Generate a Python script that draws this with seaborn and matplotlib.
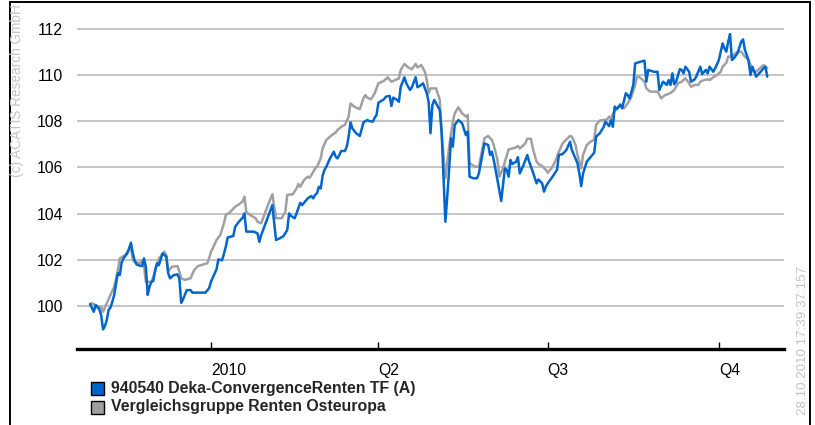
import numpy as np
import pandas as pd
import seaborn as sns
import matplotlib.pyplot as plt
from matplotlib.patches import Rectangle

fund_name = '940540 Deka-ConvergenceRenten TF (A)'
peer_name = 'Vergleichsgruppe Renten Osteuropa'

# Tage ab 01.01.2010 / indexierter Wert (Start = 100)
fund_days = [-65, -63, -62, -60, -59, -58, -57, -56, -55, -54, -53, -52, -51, -50, -49, -48, -47, -45, -44, -43,
             -42, -41, -40, -38, -37, -36, -35, -34, -33, -32, -31, -30, -29, -28, -27, -26, -25, -24, -23, -22,
             -20, -18, -17, -16, -15, -13, -11, -10, -3, -1, 0, 3, 4, 6, 8, 9, 12, 13, 15, 17,
             18, 19, 23, 25, 26, 27, 29, 31, 33, 34, 35, 37, 39, 41, 42, 43, 45, 46, 48, 49,
             51, 52, 54, 55, 56, 57, 58, 59, 60, 61, 62, 64, 66, 67, 68, 69, 70, 72, 73, 74,
             75, 76, 78, 80, 82, 84, 85, 87, 88, 89, 90, 93, 94, 96, 97, 98, 100, 101, 102, 104,
             105, 107, 108, 110, 111, 113, 114, 116, 117, 118, 119, 120, 121, 123, 124, 125, 126, 127, 128, 129,
             130, 131, 133, 135, 137, 138, 139, 141, 143, 144, 147, 149, 150, 151, 152, 154, 156, 158, 159, 160,
             161, 162, 164, 165, 166, 168, 170, 171, 173, 175, 176, 178, 179, 180, 181, 183, 185, 186, 187, 189,
             191, 193, 194, 197, 198, 199, 200, 202, 204, 206, 207, 209, 211, 212, 214, 215, 216, 217, 218, 220,
             221, 223, 224, 225, 227, 228, 231, 233, 234, 235, 238, 240, 241, 243, 245, 246, 247, 248, 249, 250,
             252, 253, 254, 255, 257, 258, 260, 261, 263, 264, 266, 267, 268, 270, 271, 273, 275, 276, 277, 278,
             279, 280, 281, 283, 285, 286, 287, 288, 289, 290, 291, 292, 293, 295, 297, 298, 299]
fund_vals = [100.09, 99.75, 100.04, 99.86, 99.60, 98.99, 99.13, 99.39, 99.83, 99.94, 100.19, 100.48, 100.98, 101.42, 101.34, 101.89, 102.06, 102.28, 102.50, 102.74,
             102.28, 101.96, 101.80, 101.74, 101.73, 102.06, 101.70, 100.48, 100.84, 101.05, 101.08, 101.56, 101.85, 101.77, 102.02, 102.28, 102.21, 102.13, 101.42, 101.20,
             101.34, 101.37, 101.20, 100.14, 100.29, 100.69, 100.69, 100.58, 100.58, 100.77, 101.05, 101.59, 102.02, 101.98, 102.57, 102.97, 103.03, 103.43, 103.65, 103.82,
             104.01, 103.22, 103.22, 103.15, 102.78, 103.07, 103.51, 103.94, 104.37, 103.58, 102.86, 102.93, 103.03, 103.29, 104.01, 103.90, 103.80, 104.01, 104.47, 104.37,
             104.56, 104.66, 104.76, 104.66, 104.81, 104.88, 105.16, 105.09, 105.63, 105.89, 106.03, 106.39, 106.68, 106.47, 106.39, 106.54, 106.71, 106.71, 106.90, 107.33,
             107.95, 107.69, 107.48, 107.36, 107.95, 108.05, 108.01, 107.98, 108.15, 108.27, 108.80, 108.95, 109.06, 109.10, 108.66, 109.02, 108.92, 108.84, 109.49, 109.90,
             109.64, 109.35, 109.47, 109.90, 109.47, 109.57, 109.64, 109.21, 108.84, 107.48, 108.70, 108.92, 108.77, 108.48, 107.48, 105.60, 103.65, 104.73, 105.89, 107.26,
             106.90, 107.84, 108.05, 107.91, 107.40, 107.55, 105.60, 105.53, 105.53, 105.74, 107.04, 106.97, 106.54, 106.68, 106.32, 105.45, 104.55, 105.96, 105.89, 105.60,
             106.32, 106.15, 106.25, 106.44, 105.74, 106.10, 106.54, 106.25, 105.81, 105.31, 105.48, 105.31, 104.95, 105.17, 105.31, 105.53, 105.77, 105.89, 106.54, 106.58,
             106.75, 107.11, 106.75, 106.18, 105.74, 105.19, 105.74, 106.25, 106.44, 106.64, 107.33, 107.48, 107.74, 107.98, 107.79, 108.05, 107.76, 108.63, 108.52, 108.70,
             108.56, 109.21, 109.13, 108.99, 109.57, 110.50, 110.58, 110.62, 109.71, 110.22, 110.14, 110.14, 109.35, 109.71, 109.57, 109.78, 109.57, 110.07, 109.60, 109.71,
             110.25, 110.22, 110.07, 110.36, 110.14, 109.71, 109.81, 109.96, 110.36, 110.04, 110.22, 110.07, 110.36, 110.14, 110.29, 110.65, 111.37, 111.15, 111.01, 111.44,
             111.77, 110.65, 110.72, 110.94, 111.44, 111.54, 111.08, 110.87, 110.58, 110.00, 110.36, 110.14, 109.93, 110.10, 110.29, 110.36, 109.93]

peer_days = [-65, -64, -61, -59, -58, -56, -52, -50, -49, -46, -44, -43, -42, -41, -38, -37, -36, -35, -32, -30,
             -28, -25, -24, -23, -21, -18, -17, -16, -14, -11, -9, -7, -2, -1, 0, 1, 3, 5, 7, 8,
             10, 13, 15, 17, 18, 19, 21, 24, 25, 27, 28, 31, 33, 34, 35, 38, 40, 41, 44, 46,
             47, 48, 50, 52, 53, 54, 56, 57, 59, 60, 62, 65, 67, 68, 70, 72, 74, 75, 77, 80,
             82, 83, 84, 86, 88, 90, 93, 95, 97, 99, 101, 102, 104, 106, 108, 110, 111, 113, 115, 116,
             117, 118, 121, 123, 124, 126, 128, 130, 131, 133, 135, 137, 138, 139, 142, 144, 147, 149, 151, 152,
             154, 155, 157, 158, 160, 162, 164, 165, 166, 169, 170, 172, 173, 175, 176, 178, 180, 181, 183, 185,
             187, 189, 191, 193, 194, 196, 197, 199, 200, 202, 204, 206, 207, 209, 211, 213, 214, 215, 217, 219,
             220, 221, 222, 224, 226, 228, 229, 230, 233, 234, 236, 240, 242, 244, 246, 248, 249, 251, 253, 255,
             257, 258, 260, 262, 263, 265, 267, 268, 270, 272, 274, 275, 277, 278, 280, 282, 283, 285, 287, 289,
             291, 293, 295, 297, 299]
peer_vals = [100.05, 100.12, 100.00, 99.95, 99.75, 100.12, 100.84, 101.56, 102.06, 102.21, 102.42, 102.55, 101.99, 101.92, 101.85, 101.99, 101.77, 101.05, 101.05, 101.49,
             102.06, 102.35, 102.21, 101.49, 101.70, 101.73, 101.49, 101.20, 101.13, 101.20, 101.56, 101.73, 101.85, 102.06, 102.35, 102.50, 102.86, 103.07, 103.58, 103.94,
             104.04, 104.30, 104.40, 104.52, 104.73, 104.08, 103.94, 103.80, 103.65, 103.58, 103.80, 104.45, 104.84, 104.30, 103.80, 103.80, 104.08, 104.81, 104.84, 105.09,
             105.28, 105.16, 105.45, 105.60, 105.55, 105.67, 105.96, 106.03, 106.39, 106.82, 107.19, 107.40, 107.50, 107.62, 107.76, 107.84, 108.20, 108.77, 108.63, 108.52,
             109.00, 109.13, 109.02, 108.95, 109.21, 109.64, 109.75, 109.90, 109.71, 109.78, 109.85, 110.22, 110.48, 110.33, 110.25, 110.48, 110.33, 110.43, 110.14, 109.78,
             109.21, 109.42, 109.42, 108.92, 107.48, 105.53, 106.90, 107.98, 108.34, 108.60, 108.34, 108.20, 108.27, 106.18, 106.03, 106.03, 107.26, 107.36, 107.19, 106.97,
             106.32, 105.60, 105.96, 106.25, 106.78, 106.82, 106.87, 106.93, 106.82, 107.04, 107.24, 107.24, 106.82, 106.25, 106.15, 106.06, 105.89, 105.77, 105.96, 106.25,
             106.68, 107.04, 107.21, 107.36, 107.33, 106.97, 106.54, 105.96, 106.54, 106.97, 107.11, 107.21, 107.84, 108.03, 108.05, 108.08, 108.20, 108.13, 108.48, 108.63,
             108.74, 108.63, 108.56, 108.77, 109.06, 109.57, 109.93, 109.93, 109.71, 109.42, 109.28, 109.28, 108.99, 109.13, 109.18, 109.28, 109.35, 109.64, 109.71, 109.86,
             109.64, 109.49, 109.57, 109.57, 109.71, 109.78, 109.81, 109.78, 109.90, 110.00, 110.14, 110.36, 110.53, 110.79, 110.82, 110.94, 111.01, 111.01, 110.79, 110.65,
             110.22, 110.14, 110.29, 110.43, 110.29]

tick_dates = ['2010-01-01', '2010-04-01', '2010-07-01', '2010-10-01']
tick_labels = ['2010', 'Q2', 'Q3', 'Q4']
y_ticks = [100, 102, 104, 106, 108, 110, 112]

fund_color = '#0066cc'
peer_color = '#a0a0a0'

start = pd.Timestamp('2010-01-01')
df = pd.concat([
    pd.DataFrame({'date': start + pd.to_timedelta(peer_days, unit='D'), 'value': peer_vals, 'series': peer_name}),
    pd.DataFrame({'date': start + pd.to_timedelta(fund_days, unit='D'), 'value': fund_vals, 'series': fund_name}),
], ignore_index=True)

sns.set_theme(style='white')
plt.rcParams['font.family'] = ['Liberation Sans', 'DejaVu Sans']

W, H = 815, 425
fig = plt.figure(figsize=(W / 100, H / 100), dpi=100)
ax = fig.add_axes([77 / W, 1 - 349 / H, 707 / W, 344 / H])

sns.lineplot(data=df, x='date', y='value', hue='series', hue_order=[peer_name, fund_name],
             palette={peer_name: peer_color, fund_name: fund_color},
             estimator=None, legend=False, lw=1.8, ax=ax)

ax.set_xlim(start - pd.Timedelta(days=72), start + pd.Timedelta(days=308))
ax.set_ylim(98.14, 113.03)
ax.set_yticks(y_ticks)
ax.set_yticklabels([str(v) for v in y_ticks])
ax.set_xticks(pd.to_datetime(tick_dates))
ax.set_xticklabels(tick_labels, ha='left')
ax.set_xlabel('')
ax.set_ylabel('')

ax.yaxis.grid(True, color='#b4b4b4', lw=1.1)
ax.xaxis.grid(False)
ax.set_axisbelow(True)
for s in ['top', 'right', 'left']:
    ax.spines[s].set_visible(False)
ax.spines['bottom'].set_color('black')
ax.spines['bottom'].set_linewidth(2.4)
ax.tick_params(axis='y', length=0, pad=10, labelsize=11.3, labelcolor='black')
ax.tick_params(axis='x', direction='in', length=5, width=1, color='black', pad=10,
               labelsize=11.3, labelcolor='black', bottom=True)

# Rahmen
fig.add_artist(Rectangle((10 / W, -0.1), 800 / W, 1 - 2 / H + 0.1, transform=fig.transFigure,
                         fill=False, ec='black', lw=1.4))

# Legende
for i, (name, col) in enumerate([(fund_name, fund_color), (peer_name, peer_color)]):
    y0 = 381.5 + i * 19
    fig.add_artist(Rectangle((91 / W, 1 - (y0 + 13) / H), 13 / W, 13 / H, transform=fig.transFigure,
                             fc=col, ec='black', lw=1.0))
    fig.text(111 / W, 1 - (y0 + 6.5) / H, name, fontsize=11.4, fontweight='bold', va='center', ha='left')

fig.text(17 / W, 1 - 4 / H, '(c) ACATIS Research GmbH', rotation=90, color='#c4c4c4',
         fontsize=9.8, ha='center', va='top')
fig.text(803 / W, 1 - 415 / H, '28.10.2010 17:39:37:157', rotation=90, color='#c4c4c4',
         fontsize=9.6, ha='center', va='bottom')

fig.savefig('out.png', dpi=100)
